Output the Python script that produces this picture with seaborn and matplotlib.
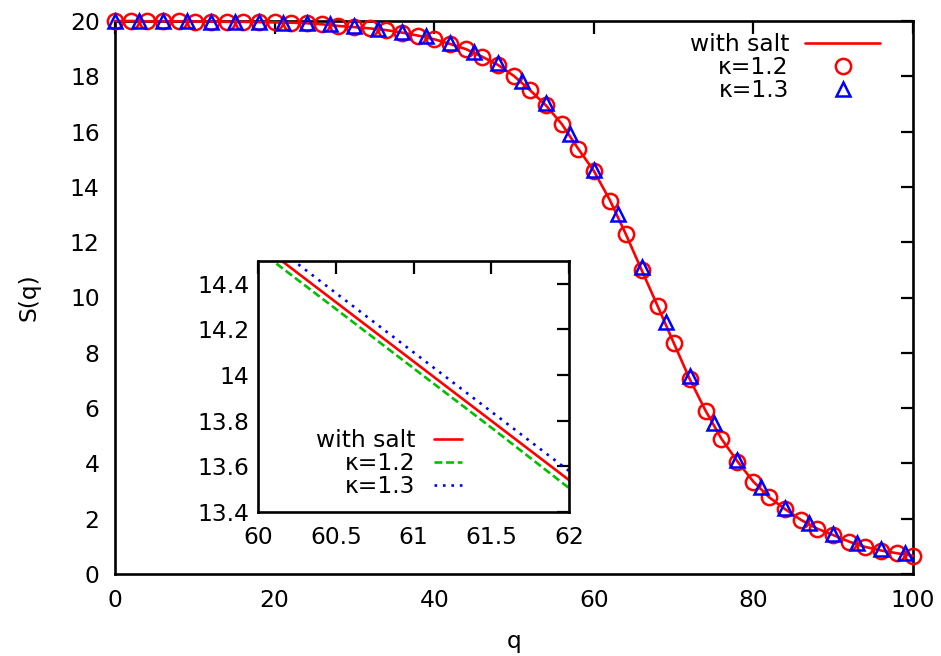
import numpy as np
import pandas as pd
import matplotlib
matplotlib.use("Agg")
import matplotlib.pyplot as plt
from matplotlib.ticker import FormatStrFormatter
import seaborn as sns

# ---- structure factor data ----
q_salt = list(range(0, 101, 2))
s_salt = [20.00, 20.00, 19.99, 19.99, 19.99, 19.98, 19.98, 19.97, 19.97, 19.96,
          19.95, 19.94, 19.92, 19.88, 19.82, 19.78, 19.73, 19.67, 19.58, 19.47,
          19.34, 19.17, 18.98, 18.71, 18.41, 18.01, 17.50, 16.95, 16.27, 15.40,
          14.58, 13.53, 12.30, 10.99, 9.69, 8.37, 7.06, 5.91, 4.89, 4.07,
          3.34, 2.77, 2.34, 1.95, 1.64, 1.41, 1.17, 0.98, 0.85, 0.75, 0.66]

q_k12 = list(range(0, 101, 2))
s_k12 = [20.00, 20.00, 19.99, 19.99, 19.99, 19.98, 19.98, 19.97, 19.97, 19.96,
         19.95, 19.94, 19.92, 19.88, 19.82, 19.78, 19.73, 19.67, 19.57, 19.47,
         19.34, 19.17, 18.98, 18.71, 18.41, 18.01, 17.50, 16.95, 16.27, 15.38,
         14.56, 13.49, 12.30, 10.99, 9.69, 8.37, 7.05, 5.91, 4.88, 4.06,
         3.34, 2.77, 2.34, 1.95, 1.63, 1.41, 1.17, 0.97, 0.84, 0.75, 0.65]

q_k13 = list(range(0, 100, 3))
s_k13 = [20.00, 20.00, 20.00, 19.99, 19.98, 19.97, 19.96, 19.94, 19.92, 19.88,
         19.82, 19.70, 19.61, 19.46, 19.22, 18.89, 18.47, 17.84, 17.02, 15.93,
         14.61, 13.02, 11.11, 9.13, 7.16, 5.47, 4.12, 3.13, 2.37, 1.83,
         1.45, 1.13, 0.89, 0.75]

# zoomed region around q = 60..62
q_zoom = [60.0, 60.5, 61.0, 61.5, 62.0]
zoom_salt = [14.58, 14.32, 14.06, 13.80, 13.54]
zoom_k12 = [14.55, 14.29, 14.03, 13.77, 13.505]
zoom_k13 = [14.62, 14.36, 14.10, 13.84, 13.58]

main_xticks = [0, 20, 40, 60, 80, 100]
main_yticks = [0, 2, 4, 6, 8, 10, 12, 14, 16, 18, 20]
zoom_xticks = [60, 60.5, 61, 61.5, 62]
zoom_yticks = [13.4, 13.6, 13.8, 14.0, 14.2, 14.4]

labels = ["with salt", "\u03ba=1.2", "\u03ba=1.3"]

# ---- style ----
sns.set_theme(style="white")
plt.rcParams["font.family"] = ["DejaVu Sans"]
plt.rcParams.update({"text.color": "black", "axes.labelcolor": "black",
                     "xtick.color": "black", "ytick.color": "black"})
FS = 16.8
RED, GREEN, BLUE = "#ff0000", "#00c000", "#0000ff"
LW = 1.9

W, H = 941, 656
fig = plt.figure(figsize=(W / 100, H / 100), dpi=100)
fig.patch.set_facecolor("white")


def frac(x0, y0, x1, y1):
    return [x0 / W, (H - y1) / H, (x1 - x0) / W, (y1 - y0) / H]


ax = fig.add_axes(frac(115, 21, 913, 574))

df_salt = pd.DataFrame({"q": q_salt, "S": s_salt})
df_k12 = pd.DataFrame({"q": q_k12, "S": s_k12})
df_k13 = pd.DataFrame({"q": q_k13, "S": s_k13})

sns.lineplot(data=df_salt, x="q", y="S", ax=ax, color=RED, lw=LW,
             label=labels[0], zorder=3, clip_on=False)
sns.lineplot(data=df_k12, x="q", y="S", ax=ax, linestyle="", marker="o",
             markersize=11, markerfacecolor="none", markeredgecolor=RED,
             markeredgewidth=1.8, color=RED, label=labels[1], zorder=4,
             clip_on=False)
sns.lineplot(data=df_k13, x="q", y="S", ax=ax, linestyle="", marker="^",
             markersize=10.5, markerfacecolor="none", markeredgecolor=BLUE,
             markeredgewidth=1.8, color=BLUE, label=labels[2], zorder=5,
             clip_on=False)

ax.set_xlim(0, 100)
ax.set_ylim(0, 20)
ax.set_xticks(main_xticks)
ax.set_yticks(main_yticks)
ax.set_xticklabels([str(v) for v in main_xticks])
ax.set_yticklabels([str(v) for v in main_yticks])
ax.tick_params(direction="in", length=9, width=1.6, top=True, right=True,
               labelsize=FS, colors="black")
ax.tick_params(axis="y", pad=11)
ax.tick_params(axis="x", pad=11)
for sp in ax.spines.values():
    sp.set_linewidth(1.9)
    sp.set_color("black")
ax.set_xlabel("q", fontsize=FS)
ax.set_ylabel("S(q)", fontsize=FS)
ax.xaxis.set_label_coords(0.5, (574 - 630) / 553)
ax.yaxis.set_label_coords((41 - 115) / 798, 0.5)

leg = ax.legend(loc="upper right", bbox_to_anchor=(880 / W, (H - 33) / H),
                bbox_transform=fig.transFigure, frameon=False, markerfirst=False,
                handlelength=3.2, handletextpad=0.7, labelspacing=0.0,
                borderpad=0, borderaxespad=0, fontsize=FS)

# ---- inset ----
ins = fig.add_axes(frac(258, 261, 569, 512))
ins.set_facecolor("white")
dz = pd.DataFrame({"q": q_zoom, "salt": zoom_salt, "k12": zoom_k12, "k13": zoom_k13})
sns.lineplot(data=dz, x="q", y="salt", ax=ins, color=RED, lw=LW, label=labels[0])
sns.lineplot(data=dz, x="q", y="k12", ax=ins, color=GREEN, lw=LW,
             linestyle=(0, (3.0, 1.4)), label=labels[1])
sns.lineplot(data=dz, x="q", y="k13", ax=ins, color=BLUE, lw=LW,
             linestyle=(0, (1.0, 2.2)), label=labels[2])
ins.set_xlim(60, 62)
ins.set_ylim(13.4, 14.5)
ins.set_xticks(zoom_xticks)
ins.set_yticks(zoom_yticks)
ins.xaxis.set_major_formatter(FormatStrFormatter("%g"))
ins.yaxis.set_major_formatter(FormatStrFormatter("%g"))
ins.tick_params(direction="in", length=9, width=1.6, top=True, right=True,
                labelsize=FS, colors="black")
ins.tick_params(axis="y", pad=6)
ins.tick_params(axis="x", pad=10)
for sp in ins.spines.values():
    sp.set_linewidth(1.9)
    sp.set_color("black")
ins.set_xlabel("")
ins.set_ylabel("")
ins.legend(loc="lower right", bbox_to_anchor=(462 / W, (H - 498) / H),
           bbox_transform=fig.transFigure, frameon=False, markerfirst=False,
           handlelength=1.2, handletextpad=0.8, labelspacing=0.0,
           borderpad=0, borderaxespad=0, fontsize=FS)

fig.savefig("out.png", dpi=100, facecolor="white")
